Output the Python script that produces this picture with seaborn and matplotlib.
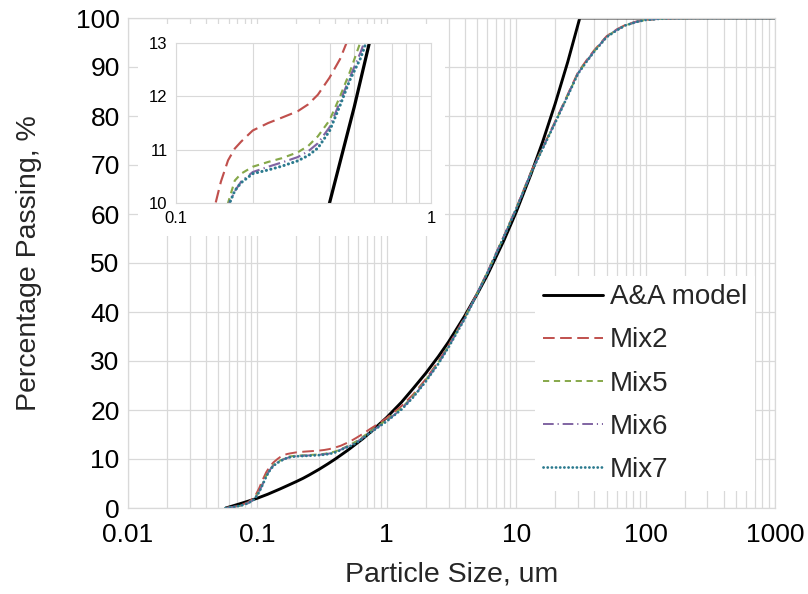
import matplotlib
matplotlib.use("Agg")
import matplotlib.pyplot as plt
import seaborn as sns
import pandas as pd
from matplotlib.ticker import LogLocator, NullFormatter, FixedLocator, FixedFormatter
from matplotlib.patches import Rectangle

sns.set_theme(style="white")
plt.rcParams['font.family'] = ['Liberation Sans', 'DejaVu Sans']

# ---------------- data ----------------
aa_x = [0.057, 0.065, 0.075, 0.085, 0.1, 0.12, 0.15, 0.175, 0.2, 0.225, 0.25, 0.3, 0.35, 0.4,
        0.45, 0.5, 0.573, 0.65, 0.75, 0.85, 1.0, 1.3, 1.6, 2, 2.5, 3, 4, 5, 6,
        8, 10, 13, 16, 20, 25, 31, 100, 1000]
aa_y = [0, 0.45, 0.95, 1.4, 2.0, 2.8, 3.9, 4.7, 5.4, 6.05, 6.7, 7.9, 9.0, 10.0,
        10.95, 11.8, 13.0, 14.1, 15.5, 16.8, 18.5, 21.6, 24.4, 27.5, 30.9, 33.9,
        39.2, 43.7, 47.6, 54.5, 60.4, 68.1, 74.7, 82.5, 91.0, 100, 100, 100]

mix_x = [0.057, 0.065, 0.075, 0.085, 0.095, 0.103, 0.11, 0.117, 0.125, 0.133,
         0.143, 0.15, 0.16, 0.17, 0.18, 0.2, 0.23, 0.26, 0.3, 0.33, 0.36, 0.4,
         0.44, 0.48, 0.53, 0.58, 0.65, 0.75, 0.85, 1.0, 1.3, 1.6, 2.0, 2.5, 3.0,
         4.0, 5.0, 6.0, 8.0, 10, 13, 16, 20, 25, 30, 35, 40, 50, 60, 70, 85,
         100, 130, 170, 250, 400, 1000]
mix2_y = [0, 0.2, 0.6, 1.2, 2.2, 4.0, 5.8, 7.3, 8.5, 9.3,
          10.0, 10.4, 10.8, 11.02, 11.15, 11.36, 11.5, 11.6, 11.72, 11.85, 12.03, 12.35,
          12.7, 13.15, 13.7, 14.3, 15.1, 16.2, 17.1, 18.4, 20.8, 23.2, 26.3, 29.9, 33.2,
          38.9, 43.9, 48.2, 55.4, 61.2, 68.6, 73.5, 78.9, 84.4, 88.9, 91.4, 93.4, 96.3,
          97.7, 98.6, 99.3, 99.6, 99.85, 99.95, 100, 100, 100]
mix5_y = [0, 0.2, 0.5, 1.0, 1.9, 3.4, 5.0, 6.6, 7.9, 8.8,
          9.4, 9.7, 10.0, 10.42, 10.55, 10.68, 10.77, 10.84, 10.95, 11.07, 11.25, 11.55,
          12.0, 12.45, 13.03, 13.6, 14.5, 15.7, 16.7, 18.0, 20.4, 22.9, 26.1, 29.7, 33.0,
          38.8, 43.8, 48.1, 55.3, 61.1, 68.4, 73.4, 78.7, 84.2, 88.7, 91.2, 93.2, 96.2,
          97.6, 98.5, 99.2, 99.6, 99.85, 99.95, 100, 100, 100]
mix6_y = [0, 0.2, 0.5, 1.0, 1.8, 3.3, 4.9, 6.5, 7.8, 8.7,
          9.3, 9.6, 9.95, 10.22, 10.4, 10.58, 10.68, 10.76, 10.86, 10.97, 11.12, 11.42,
          11.9, 12.35, 12.83, 13.35, 14.3, 15.5, 16.5, 17.8, 20.2, 22.7, 25.9, 29.5, 32.9,
          38.7, 43.8, 48.1, 55.3, 61.1, 68.4, 73.4, 78.7, 84.2, 88.7, 91.2, 93.2, 96.2,
          97.6, 98.5, 99.2, 99.6, 99.85, 99.95, 100, 100, 100]
mix7_y = [0, 0.2, 0.5, 1.0, 1.8, 3.2, 4.8, 6.4, 7.7, 8.6,
          9.2, 9.55, 9.93, 10.23, 10.38, 10.55, 10.62, 10.69, 10.79, 10.89, 11.03, 11.35,
          11.83, 12.3, 12.72, 13.25, 14.2, 15.4, 16.4, 17.7, 20.1, 22.6, 25.8, 29.4, 32.8,
          38.6, 43.7, 48.0, 55.2, 61.0, 68.3, 73.3, 78.6, 84.1, 88.6, 91.1, 93.1, 96.1,
          97.5, 98.5, 99.2, 99.6, 99.85, 99.95, 100, 100, 100]

series_names = ["A&A model", "Mix2", "Mix5", "Mix6", "Mix7"]
x_tick_vals = [0.01, 0.1, 1, 10, 100, 1000]
x_tick_labels = ["0.01", "0.1", "1", "10", "100", "1000"]
y_tick_vals = list(range(0, 101, 10))
inset_y_ticks = [10, 11, 12, 13]
inset_x_ticks = [0.1, 1]
inset_x_labels = ["0.1", "1"]

frames = [pd.DataFrame({"x": aa_x, "y": aa_y, "series": "A&A model"})]
for nm, yy in zip(series_names[1:], [mix2_y, mix5_y, mix6_y, mix7_y]):
    frames.append(pd.DataFrame({"x": mix_x, "y": yy, "series": nm}))
df = pd.concat(frames, ignore_index=True)

colors = {"A&A model": "#000000", "Mix2": "#C0504D", "Mix5": "#86A84A",
          "Mix6": "#8064A2", "Mix7": "#2B7A8E"}
widths = {"A&A model": 2.1, "Mix2": 1.4, "Mix5": 1.4, "Mix6": 1.4, "Mix7": 2.0}
dash = {"A&A model": None, "Mix2": (6.0, 2.8), "Mix5": (3.2, 2.4),
        "Mix6": (5.5, 2.0, 0.6, 2.0), "Mix7": (0.05, 1.45)}

GRID = "#D9D9D9"


def draw(ax, lw_scale=1.0):
    handles = []
    for nm in series_names:
        sub = df[df["series"] == nm]
        sns.lineplot(data=sub, x="x", y="y", ax=ax, color=colors[nm],
                     linewidth=widths[nm] * lw_scale, estimator=None,
                     sort=False, legend=False)
        ln = ax.lines[-1]
        if dash[nm] is None:
            ln.set_linestyle("-")
        else:
            ln.set_dashes(dash[nm])
            if nm == "Mix7":
                ln.set_dash_capstyle("round")
        ln.set_label(nm)
        handles.append(ln)
    return handles


fig = plt.figure(figsize=(8.08, 5.94), dpi=100)
W, H = 808, 594
ax = fig.add_axes([128 / W, 1 - 508 / H, (775 - 128) / W, (508 - 18) / H])
ax.set_xscale("log")
handles = draw(ax)
ax.set_xlim(0.01, 1000)
ax.set_ylim(0, 100)
ax.xaxis.set_major_locator(FixedLocator(x_tick_vals))
ax.xaxis.set_major_formatter(FixedFormatter(x_tick_labels))
ax.xaxis.set_minor_locator(LogLocator(base=10, subs=[2, 3, 4, 5, 6, 7, 8, 9], numticks=20))
ax.xaxis.set_minor_formatter(NullFormatter())
ax.set_yticks(y_tick_vals)
ax.grid(True, which="both", axis="x", color=GRID, linewidth=0.9)
ax.grid(True, which="major", axis="y", color=GRID, linewidth=0.9)
ax.set_axisbelow(True)
for s in ax.spines.values():
    s.set_color(GRID)
    s.set_linewidth(0.9)
ax.tick_params(axis="both", which="both", length=0, labelsize=19, colors="#000000")
ax.tick_params(axis="x", pad=11)
ax.tick_params(axis="y", pad=6)
ax.set_xlabel("Particle Size, um", fontsize=20.5, labelpad=10)
ax.set_ylabel("Percentage Passing, %", fontsize=20.5, labelpad=24)

leg = ax.legend(handles=handles, loc="upper left",
                bbox_to_anchor=(521 / W, 1 - 262 / H), bbox_transform=fig.transFigure,
                fontsize=20, frameon=True, facecolor="white", edgecolor="none",
                framealpha=1.0, handlelength=2.15, handletextpad=0.25,
                labelspacing=0.62, borderpad=0.3, fancybox=False)

# white panel behind the inset
fig.patches.append(Rectangle((138 / W, 1 - 236 / H), (445 - 138) / W, (236 - 24) / H,
                             transform=fig.transFigure, facecolor="white",
                             edgecolor="none", zorder=2))

ins = fig.add_axes([176 / W, 1 - 203 / H, (431 - 176) / W, (203 - 43) / H])
ins.set_zorder(3)
ins.set_xscale("log")
draw(ins, lw_scale=1.1)
ins.set_xlim(0.1, 1)
ins.set_ylim(10, 13)
ins.xaxis.set_major_locator(FixedLocator(inset_x_ticks))
ins.xaxis.set_major_formatter(FixedFormatter(inset_x_labels))
ins.xaxis.set_minor_locator(LogLocator(base=10, subs=[2, 3, 4, 5, 6, 7, 8, 9], numticks=20))
ins.xaxis.set_minor_formatter(NullFormatter())
ins.set_yticks(inset_y_ticks)
ins.grid(True, which="both", axis="x", color=GRID, linewidth=0.8)
ins.grid(True, which="major", axis="y", color=GRID, linewidth=0.8)
ins.set_axisbelow(True)
for s in ins.spines.values():
    s.set_color(GRID)
    s.set_linewidth(0.8)
ins.tick_params(axis="both", which="both", length=0, labelsize=12, colors="#000000")
ins.tick_params(axis="x", pad=6)
ins.tick_params(axis="y", pad=6)
ins.set_xlabel("")
ins.set_ylabel("")

fig.savefig("out.png", dpi=100)
